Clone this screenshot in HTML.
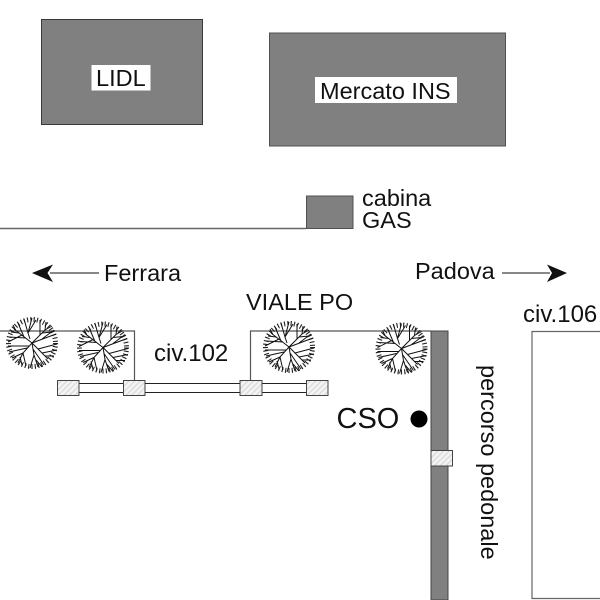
<!DOCTYPE html>
<html><head><meta charset="utf-8"><style>
html,body{margin:0;padding:0;background:#fff}
svg{display:block}
text{font-family:"Liberation Sans",sans-serif;fill:#111}
</style></head><body>
<svg width="600" height="600" viewBox="0 0 600 600" xmlns="http://www.w3.org/2000/svg">
<defs>
<pattern id="h" width="4" height="4" patternUnits="userSpaceOnUse" patternTransform="rotate(45)">
<rect width="4" height="4" fill="#f4f4f4"/><rect width="1.200" height="4" fill="#d8d8d8"/>
</pattern>
<g id="tree" fill="none" stroke="#111">
<circle r="23.500" stroke-width="5" stroke-dasharray="1.100 2.200" stroke="#222"/>
<path stroke-width="1" d="M0 0L-18 -14M-6 -5L-23 -6M-10 -8L-24 -1M-8 -6L-14 -20M-13 -10L-21 -11M-16 -12L-19 -18M-4 -10L-8 -24M-4 -10L0 -25M-4 -10L4 -23M-4 -10L-2 -4M0 0L13 -13L20 -17M13 -13L14 -21M8 -8L8 -23M10 -10L20 -11M0 0L24 -9M10 -4L22 -13M0 0L16 16M10 10L25 7M6 6L25 1M13 13L22 13M0 0L2 12L6 24M2 12L-2 25M1 6L12 22M4 17L10 24M0 0L-9 10L-14 20M-9 10L-6 23M-9 10L-20 15M-5 5L-23 9M-12 14L-10 22M-3 3L-24 3"/>
</g>
</defs>
<rect width="600" height="600" fill="#fff"/>

<!-- buildings -->
<rect x="41.500" y="19.500" width="161" height="105" fill="#808080" stroke="#3a3a3a"/>
<rect x="91.500" y="65" width="59" height="25.500" fill="#fff"/>
<text x="96" y="86" font-size="23.500">LIDL</text>
<rect x="269.500" y="33" width="236" height="113" fill="#808080" stroke="#505050"/>
<rect x="315" y="77" width="142" height="26" fill="#fff"/>
<text x="320" y="99" font-size="23.500">Mercato INS</text>

<!-- gas cabin -->
<line x1="0" y1="228.500" x2="306" y2="228.500" stroke="#666" stroke-width="1.500"/>
<rect x="306.500" y="196" width="46.500" height="32.500" fill="#808080" stroke="#505050"/>
<text x="362" y="206" font-size="23.500">cabina</text>
<text x="362" y="228" font-size="23.500">GAS</text>

<!-- direction arrows -->
<line x1="50" y1="273" x2="99" y2="273" stroke="#111"/>
<path d="M32 273L53 264.500L47.500 273L53 282Z" fill="#111"/>
<text x="104" y="281" font-size="23.500">Ferrara</text>
<text x="415" y="279" font-size="23.500">Padova</text>
<line x1="502" y1="273" x2="550" y2="273" stroke="#111"/>
<path d="M567 273L547 264.500L552 273L547 282Z" fill="#111"/>

<text x="246" y="310" font-size="23.500">VIALE PO</text>
<text x="523" y="322" font-size="24">civ.106</text>
<text x="154" y="361" font-size="24">civ.102</text>

<!-- boundaries -->
<path d="M0 331H134.500V380" fill="none" stroke="#555" stroke-width="1.200"/>
<path d="M250.500 380V331H431" fill="none" stroke="#555" stroke-width="1.200"/>
<path d="M600 331.500H532V598.500H600" fill="none" stroke="#666" stroke-width="1.200"/>

<!-- fence -->
<path d="M79 383.500H306M79 392.500H306" stroke="#222" stroke-width="1.100"/>
<g fill="url(#h)" stroke="#444">
<rect x="57.500" y="380.500" width="21.500" height="15"/>
<rect x="123.500" y="380.500" width="21.500" height="15"/>
<rect x="240" y="380.500" width="22" height="15"/>
<rect x="306.500" y="380.500" width="21.500" height="15"/>
</g>

<!-- pedestrian path -->
<rect x="431" y="331" width="17" height="269" fill="#808080" stroke="#444"/>
<rect x="431" y="450.500" width="21.500" height="15.500" fill="url(#h)" stroke="#444"/>

<!-- trees -->
<use href="#tree" x="32" y="343"/>
<use href="#tree" x="103" y="347.500"/>
<use href="#tree" x="289" y="347"/>
<use href="#tree" x="401.500" y="348.500"/>

<!-- CSO -->
<text x="336.500" y="428" font-size="29">CSO</text>
<circle cx="419" cy="419" r="8.500" fill="#000"/>

<text transform="translate(481 365) rotate(90)" font-size="23.500">percorso pedonale</text>
</svg>
</body></html>
